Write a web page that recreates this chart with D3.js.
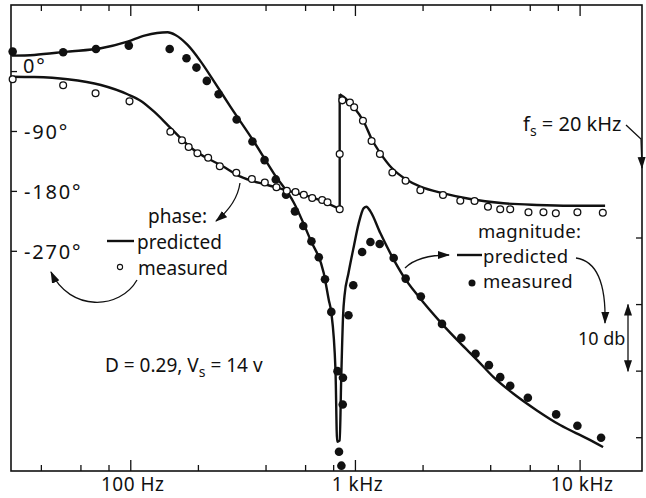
<!DOCTYPE html>
<html><head><meta charset="utf-8">
<script src="https://cdn.jsdelivr.net/npm/d3@7"></script>
<style>
body{margin:0;background:#fff}
svg{display:block}
text{font-family:"Noto Sans",sans-serif;fill:#111}
</style>
</head><body>
<svg id="c" width="646" height="498"></svg>
<script>
// ---------- data ----------
const freqTicks = [40,60,80,100,200,400,600,800,1000,2000,4000,6000,8000,10000];
const majorFreqs = [100,1000,10000];
const freqLabels = ["100 Hz","1 kHz","10 kHz"];
const phaseTicks = [0,-90,-180,-270];
const phaseTickLabels = ["0°","-90°","-180°","-270°"];
const magTicks = [0,-10,-20,-30];

// magnitude, measured (Hz, dB)
const magMeasured = [[29.8,28.0],[50,27.9],[70,28.4],[98,28.9],[149,28.4],[177,27.0],[196,25.6],[218,23.6],[246,21.6],[296,17.8],[348,14.5],[394,11.7],[442,8.8],[491,6.5],[538,4.0],[586,1.8],[637,-0.5],[687,-2.9],[732,-6.2],[781,-11.1],[832,-20.0],[845,-32.1],[866,-34.2],[880,-21.0],[878,-25.0],[931,-11.6],[978,-7.1],[1071,-2.1],[1166,-0.6],[1282,-0.9],[1480,-3.0],[1673,-6.1],[1955,-8.8],[2428,-12.9],[2959,-15.0],[3424,-17.4],[3928,-19.1],[4410,-20.9],[4886,-22.2],[5855,-24.0],[7824,-26.5],[9727,-28.2],[12400,-30.0]];

// phase, measured (Hz, degrees)
const phaseMeasured = [[29.8,-11.6],[50,-20.6],[69.7,-32.6],[98.7,-44.7],[150,-90.3],[169,-103.2],[181,-113.3],[198,-122.8],[221,-129.5],[249,-142.3],[295,-151.9],[346,-161.4],[395,-166.6],[445,-173.7],[495,-179.1],[541,-180.9],[589,-185.0],[642,-189.9],[711,-192.9],[751,-196.4],[851,-206.9],[851,-123.8],[874,-43.2],[945,-46.5],[987,-53.7],[1080,-73.8],[1180,-104.3],[1285,-123.8],[1460,-151.6],[1672,-163.9],[1945,-178.3],[2453,-185.4],[2929,-194.0],[3390,-194.4],[3889,-203.0],[4410,-206.9],[4886,-206.9],[5891,-211.4],[6869,-211.4],[7798,-212.9],[9727,-211.4],[12620,-212.0]];

// magnitude, predicted (Hz, dB)
const magPredicted = [[29.5,27.4],[37.2,27.5],[52.3,28.0],[73.6,28.5],[96.7,29.5],[115,30.4],[131,30.8],[146,30.9],[158,30.5],[179,29.0],[205,26.5],[235,23.5],[278,19.7],[353,14.5],[433,9.7],[532,5.3],[631,-0.3],[723,-5.3],[761,-9.3],[780,-11.1],[815,-19.8],[829,-30.6],[851,-30.4],[864,-21.4],[882,-11.3],[894,-8.7],[931,-5.3],[983,-1.3],[1034,2.2],[1089,4.5],[1119,4.7],[1166,4.0],[1292,0.7],[1456,-2.8],[1639,-5.8],[1911,-8.8],[2428,-12.9],[2929,-15.8],[3474,-18.3],[4119,-20.9],[5052,-23.4],[6421,-25.9],[8149,-28.1],[10710,-30.1],[12660,-31.4]];

// phase, predicted (Hz, degrees): below and above the jump
const phasePredictedLow = [[29.5,-7.7],[37.2,-8.2],[52.3,-11.6],[73.6,-20.2],[96.7,-34.1],[111,-44.2],[127,-60.3],[146,-80.3],[167,-100.2],[191,-117.8],[219,-130.3],[251,-140.3],[308,-157.9],[406,-170.4],[499,-178.9],[651,-189.9],[851,-206.4]];
const phasePredictedHigh = [[851,-34.1],[903,-40.2],[980,-52.8],[1089,-75.3],[1187,-102.8],[1292,-122.8],[1456,-145.3],[1697,-162.9],[1945,-172.9],[2468,-182.9],[3244,-191.4],[4561,-197.9],[6421,-200.4],[9028,-201.5],[12920,-201.5]];

// ---------- layout ----------
const L = 11, R = 642, T = 5, B = 471;
const svg = d3.select("#c");
const x = d3.scaleLog().domain([29.3, 18860]).range([L, R]);
const yMag = d3.scaleLinear().domain([35, -35]).range([T, B]);
const yPh = d3.scaleLinear().domain([100, -600]).range([T, B]);

const defs = svg.append("defs");
defs.append("marker").attr("id","ah").attr("viewBox","0 -5 12 10")
  .attr("refX",11).attr("refY",0).attr("markerWidth",12).attr("markerHeight",10)
  .attr("markerUnits","userSpaceOnUse").attr("orient","auto-start-reverse")
  .append("path").attr("d","M0,-4 L12,0 L0,4 Z").attr("fill","#111");

// frame
svg.append("rect").attr("x",L).attr("y",T).attr("width",R-L).attr("height",B-T)
  .attr("fill","none").attr("stroke","#111").attr("stroke-width",1.6);

// top & bottom ticks
freqTicks.forEach(f => {
  const len = majorFreqs.includes(f) ? 11 : 6;
  const xx = x(f);
  svg.append("line").attr("x1",xx).attr("x2",xx).attr("y1",B).attr("y2",B-len)
    .attr("stroke","#111").attr("stroke-width",1.3);
  svg.append("line").attr("x1",xx).attr("x2",xx).attr("y1",T).attr("y2",T+len)
    .attr("stroke","#111").attr("stroke-width",1.3);
});
majorFreqs.forEach((f,i) => {
  svg.append("text").attr("x",x(f)+2).attr("y",491).attr("text-anchor","middle")
    .attr("font-size",19).attr("letter-spacing",0.5).text(freqLabels[i]);
});

// left phase ticks
phaseTicks.forEach((p,i) => {
  const yy = yPh(p);
  svg.append("line").attr("x1",L).attr("x2",L+6).attr("y1",yy).attr("y2",yy)
    .attr("stroke","#111").attr("stroke-width",1.3);
  const t = svg.append("text").attr("x",p===0?23:24).attr("y",yy)
    .attr("font-size",20).attr("letter-spacing",1.8).text(phaseTickLabels[i]);
  if (p === 0) t.attr("dy","0.05em"); else t.attr("dy","0.36em");
});
// right magnitude ticks
magTicks.forEach(m => {
  const yy = yMag(m);
  svg.append("line").attr("x1",R).attr("x2",R-6).attr("y1",yy).attr("y2",yy)
    .attr("stroke","#111").attr("stroke-width",1.3);
});

// predicted curves
const lineMag = d3.line().x(d=>x(d[0])).y(d=>yMag(d[1])).curve(d3.curveMonotoneX);
const linePh = d3.line().x(d=>x(d[0])).y(d=>yPh(d[1])).curve(d3.curveMonotoneX);
const linePhStraight = d3.line().x(d=>x(d[0])).y(d=>yPh(d[1]));
const curveStyle = s => s.attr("fill","none").attr("stroke","#111").attr("stroke-width",2.4).attr("stroke-linejoin","round");

svg.append("path").attr("d",lineMag(magPredicted)).call(curveStyle);
svg.append("path").attr("d",linePh(phasePredictedLow)).call(curveStyle);
svg.append("path").attr("d",linePh(phasePredictedHigh)).call(curveStyle);
svg.append("path").attr("d",linePhStraight([phasePredictedLow[phasePredictedLow.length-1], phasePredictedHigh[0]])).call(curveStyle);

// measured points
svg.append("g").selectAll("circle").data(magMeasured).join("circle")
  .attr("cx",d=>x(d[0])).attr("cy",d=>yMag(d[1])).attr("r",4.3).attr("fill","#111");
svg.append("g").selectAll("circle").data(phaseMeasured).join("circle")
  .attr("cx",d=>x(d[0])).attr("cy",d=>yPh(d[1])).attr("r",3.4)
  .attr("fill","#fff").attr("stroke","#111").attr("stroke-width",1.3);

// ---------- annotations ----------
const ann = (d) => svg.append("path").attr("d",d).attr("fill","none")
  .attr("stroke","#111").attr("stroke-width",1.3).attr("marker-end","url(#ah)");

// phase legend
svg.append("text").attr("x",148).attr("y",223).attr("font-size",19).text("phase:");
svg.append("line").attr("x1",107).attr("x2",134).attr("y1",241).attr("y2",241)
  .attr("stroke","#111").attr("stroke-width",2.4);
svg.append("text").attr("x",137).attr("y",249).attr("font-size",19).text("predicted");
svg.append("circle").attr("cx",120).attr("cy",267).attr("r",2.6)
  .attr("fill","#fff").attr("stroke","#111").attr("stroke-width",1.1);
svg.append("text").attr("x",138).attr("y",275).attr("font-size",19).text("measured");
ann("M240,183 Q237,204 216,221");
ann("M137,280 C120,310 70,312 51,272");

// magnitude legend
svg.append("text").attr("x",478).attr("y",238).attr("font-size",18.5).attr("letter-spacing",0.3).text("magnitude:");
svg.append("line").attr("x1",457).attr("x2",482).attr("y1",255).attr("y2",255)
  .attr("stroke","#111").attr("stroke-width",2.4);
svg.append("text").attr("x",483).attr("y",263).attr("font-size",18.5).attr("letter-spacing",0.3).text("predicted");
svg.append("circle").attr("cx",472).attr("cy",283).attr("r",3.5).attr("fill","#111");
svg.append("text").attr("x",483).attr("y",288).attr("font-size",18.5).attr("letter-spacing",0.3).text("measured");
ann("M405,268 Q418,255 449,255");
ann("M576,258 C597,261 606,285 605,323");

// 10 db scale bar
svg.append("text").attr("x",578).attr("y",345).attr("font-size",18).text("10 db");
svg.append("line").attr("x1",628).attr("x2",628).attr("y1",yMag(-10)).attr("y2",yMag(-20))
  .attr("stroke","#111").attr("stroke-width",1.3)
  .attr("marker-start","url(#ah)").attr("marker-end","url(#ah)");

// sampling frequency note
const fs = svg.append("text").attr("x",523).attr("y",131).attr("font-size",20);
fs.append("tspan").text("f");
fs.append("tspan").attr("font-size",14).attr("dy",5).text("s");
fs.append("tspan").attr("dy",-5).text(" = 20 kHz");
ann("M626,125 L641,139 L642,168");

// operating point note
const op = svg.append("text").attr("x",105).attr("y",372).attr("font-size",19);
op.append("tspan").text("D = 0.29, V");
op.append("tspan").attr("font-size",14).attr("dy",5).text("s");
op.append("tspan").attr("dy",-5).text(" = 14 v");
</script>
</body></html>
